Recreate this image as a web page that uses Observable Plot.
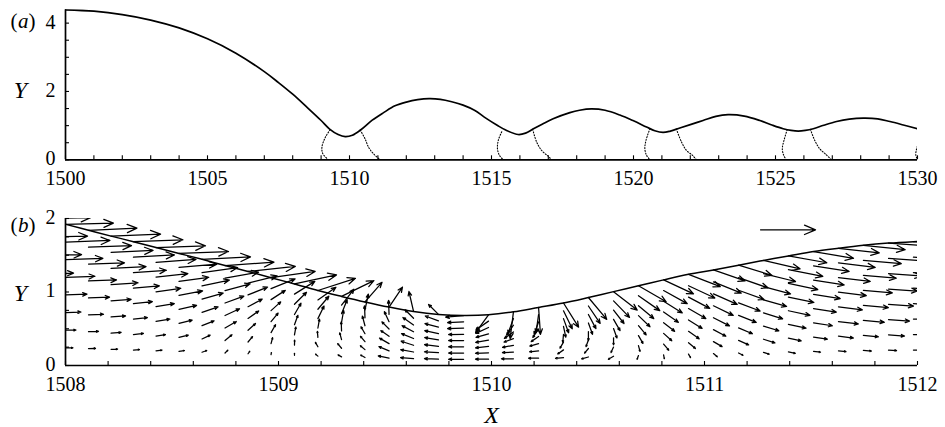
<!DOCTYPE html>
<html>
<head>
<meta charset="utf-8">
<script src="https://cdn.jsdelivr.net/npm/d3@7"></script>
<script src="https://cdn.jsdelivr.net/npm/@observablehq/plot@0.6"></script>
<style>
  html, body { margin: 0; padding: 0; background: #fff; }
  #wrap { position: relative; width: 945px; height: 427px; background: #fff; }
  #wrap svg { position: absolute; left: 0; display: block; }
</style>
</head>
<body>
<div id="wrap"></div>
<script>
// ---------- Panel (a): free surface ----------
const aX = [1500,1501,1502,1503,1504,1505,1506,1507,1507.5,1508,1508.5,1509,1509.3,1509.6,1509.85,1510.1,1510.4,1510.8,1511.2,1511.6,1512,1512.4,1512.8,1513.2,1513.6,1514,1514.4,1514.8,1515.2,1515.5,1515.94,1516.2,1516.46,1516.8,1517.17,1517.76,1518.1,1518.52,1519,1519.52,1520,1520.46,1520.75,1521.04,1521.3,1521.63,1522,1522.45,1522.9,1523.33,1523.9,1524.45,1524.9,1525.27,1525.55,1525.8,1526.05,1526.33,1526.7,1527.15,1527.6,1528.09,1528.6,1529.03,1529.5,1530];
const aY = [4.39,4.35,4.25,4.09,3.86,3.54,3.12,2.58,2.26,1.92,1.54,1.15,0.90,0.74,0.68,0.72,0.88,1.16,1.38,1.58,1.69,1.76,1.79,1.77,1.70,1.60,1.45,1.22,1.01,0.87,0.74,0.78,0.90,1.05,1.20,1.38,1.45,1.49,1.45,1.31,1.14,0.96,0.85,0.80,0.84,0.93,1.03,1.15,1.27,1.32,1.28,1.15,1.01,0.91,0.86,0.84,0.86,0.91,1.01,1.12,1.19,1.22,1.20,1.12,1.02,0.91];

// dotted curves near each trough ([X, Y] pairs)
const dotL1 = [[1509.32,0.88],[1509.15,0.66],[1509.03,0.37],[1509.06,0.18],[1509.26,0]];
const dotR1 = [[1510.38,0.87],[1510.55,0.61],[1510.67,0.37],[1510.84,0.18],[1511.08,0]];
const dotL2 = [[1515.36,0.82],[1515.24,0.57],[1515.21,0.32],[1515.28,0.13],[1515.42,0]];
const dotR2 = [[1516.45,0.89],[1516.59,0.52],[1516.77,0.27],[1517.0,0.1],[1517.12,0]];
const dotL3 = [[1520.58,0.91],[1520.44,0.57],[1520.40,0.32],[1520.46,0.13],[1520.58,0]];
const dotR3 = [[1521.51,0.90],[1521.69,0.52],[1521.87,0.27],[1522.08,0.13],[1522.22,0]];
const dotL4 = [[1525.41,0.88],[1525.30,0.57],[1525.24,0.32],[1525.29,0.13],[1525.38,0]];
const dotR4 = [[1526.23,0.89],[1526.38,0.57],[1526.56,0.32],[1526.77,0.16],[1526.97,0]];
const dotL5 = [[1530.15,0.70],[1529.99,0.38],[1529.94,0.15],[1530.0,0]];

const aXLabels = [1500,1505,1510,1515,1520,1525,1530];
const aYLabels = [0,2,4];

// ---------- Panel (b): velocity field ----------
const colX = [1507.897,1508.002,1508.108,1508.214,1508.319,1508.425,1508.533,1508.641,1508.749,1508.857,1508.965,1509.075,1509.185,1509.296,1509.406,1509.519,1509.634,1509.751,1509.869,1509.986,1510.103,1510.221,1510.338,1510.455,1510.573,1510.690,1510.808,1510.925,1511.042,1511.160,1511.277,1511.394,1511.512,1511.629,1511.746,1511.864,1511.981,1512.099];
const colEta = [2.0,1.92,1.84,1.76,1.685,1.605,1.525,1.445,1.36,1.28,1.195,1.11,1.02,0.94,0.865,0.795,0.735,0.695,0.68,0.69,0.73,0.79,0.85,0.925,1.005,1.085,1.165,1.24,1.30,1.365,1.43,1.49,1.55,1.595,1.635,1.665,1.685,1.70];

// arrow lengths (px) and directions (deg, counter-clockwise from +X), level k = 1..8 (k/8 of depth)
const lenRow1 = [7,7,7,6.5,6,6,5.5,5,4,3, 2,2,3,4,5,11,13,14,15,13, 12,10,8,7,6,4,4,4,5,5, 6,7,7,7.5,8,8,8,8];
const angRow1 = [0,0,1,2,4,6,10,20,45,55, 80,90,140,150,150,168,175,178,180,180, 180,180,185,195,210,250,280,300,320,332, 342,348,352,354,356,357,358,358];
const lenRow2 = [10,10,10,10,10,9.5,9.5,9,9,7, 6,5,5,6,6,11,13,14,15,13, 11,9,7,6,6,6,8,9,10,11, 12,13,14,15,15,16,16,16];
const angRow2 = [1,1,2,4,6,8,14,25,40,50, 75,88,120,130,140,157,170,176,180,182, 183,185,215,230,245,285,310,320,330,336, 342,348,351,353,355,356,357,358];
const lenRow3 = [15,15,15,14.5,14,14,13.5,13,13,10, 9,8,6,7,7,11,13,14,15,13, 11,9,7,7,7,9,11,13,14,15, 16,18,19,20,21,21,22,22];
const angRow3 = [1,2,2,4,6,9,14,22,30,42, 60,80,95,105,130,150,162,173,180,186, 190,195,240,250,270,300,318,325,332,337, 343,348,351,353,355,356,357,358];
const lenRow4 = [22,21,21,20,19,18.5,18,17,16,13, 11,10,9,9,8,10,13,14,15,13, 10,9,8,9,10,12,14,16,18,19, 20,22,23,24,25,25,26,26];
const angRow4 = [1,2,2,4,6,9,13,19,25,35, 50,70,80,92,120,145,158,170,180,190, 200,215,265,270,290,310,322,328,333,338, 343,348,351,353,355,356,357,358];
const lenRow5 = [30,29,28,27,26,25,24,22,20,16, 13,13,14,12,10,10,13,14,15,13, 11,10,11,12,13,16,18,20,22,23, 24,26,27,28,29,29,30,30];
const angRow5 = [1,2,2,4,5,8,11,16,20,28, 42,60,64,80,105,135,152,168,181,196, 215,235,282,290,300,316,325,330,334,339, 344,348,351,353,355,356,357,358];
const lenRow6 = [38,37,36,35,33,32,30,28,26,21, 17,17,17,15,12,11,13,14,16,14, 12,13,15,16,17,20,22,24,26,27, 28,30,31,32,33,33,34,34];
const angRow6 = [1,2,2,3,4,6,8,12,15,22, 33,45,50,68,92,115,145,165,182,205, 235,250,290,298,308,320,328,332,336,340, 345,348,351,353,355,356,357,358];
const lenRow7 = [44,44,43,42,41,40,38,36,34,30, 26,24,22,20,16,14,12,14,16,15, 16,18,20,21,23,26,27,29,30,31, 33,35,36,37,38,38,38,39];
const angRow7 = [1,2,2,2.5,3,4,5,8,10,14, 22,32,35,52,78,92,135,160,183,215, 250,262,296,304,314,325,331,335,338,341, 346,349,351,353,355,356,357,358];
const lenRow8 = [47,47.5,48.5,49.5,49.5,49.5,49.5,48.5,49,47.5, 44.5,43,39.5,36,26,24,20.5,14,18,22, 27,27,28.5,28.5,30,32,33,34,33.5,35, 37.5,39,40.5,41,42,42,43,43];
const angRow8 = [1,1.5,2.5,2.3,2.2,2,2.2,2.8,4,6, 8,12,18,26,49,56,103,135,185,234, 263,274,302,310,322,330,335,339,341,343, 347,350,350.5,353.5,354,356,357,358];

// reference (key) arrow
const keyX = [1511.263];
const keyY = [1.846];
const keyLen = [55];

const bXLabels = [1508,1509,1510,1511,1512];
const bYLabels = [0,1,2];

// ---------- build ----------
const font = "'Liberation Serif', 'Times New Roman', Times, serif";
const W = 945, ML = 65, MR = 28;
const frameW = W - ML - MR;

const lenRows = [lenRow1,lenRow2,lenRow3,lenRow4,lenRow5,lenRow6,lenRow7,lenRow8];
const angRows = [angRow1,angRow2,angRow3,angRow4,angRow5,angRow6,angRow7,angRow8];
const arrows = [];
colX.forEach((x, i) => {
  for (let k = 1; k <= 8; k++) {
    arrows.push({x, y: k / 8 * colEta[i], len: lenRows[k-1][i], rot: 90 - angRows[k-1][i]});
  }
});
const surfB = colX.map((x, i) => ({x, y: colEta[i]}));
const keyData = keyX.map((x, i) => ({x, y: keyY[i], len: keyLen[i], rot: 90}));

const arrowShape = {
  draw(context, l) {
    const h = 0.2 * l, w = 0.085 * l;
    context.moveTo(0, 0);
    context.lineTo(0, -l);
    context.moveTo(-w, h - l);
    context.lineTo(0, -l);
    context.lineTo(w, h - l);
  }
};

function panelLabel(letter, dy) {
  const common = {frameAnchor: "top-left", lineAnchor: "middle", dy, fontSize: 21, fontFamily: font, textAnchor: "start", text: d => d};
  return [
    Plot.text(["("], {...common, dx: -55}),
    Plot.text([letter], {...common, dx: -47.5, fontStyle: "italic"}),
    Plot.text([")"], {...common, dx: -37})
  ];
}

// Panel a
const HA = 200, MTA = 9.3, MBA = HA - 159.3;
const frameHA = HA - MTA - MBA;
const aData = aX.map((x, i) => ({x, y: aY[i]}));
const dotted = [dotL1, dotR1, dotL2, dotR2, dotL3, dotR3, dotL4, dotR4, dotL5];

const plotA = Plot.plot({
  width: W, height: HA,
  marginTop: MTA, marginBottom: MBA, marginLeft: ML, marginRight: MR,
  x: {domain: [aXLabels[0], aXLabels[aXLabels.length - 1]], axis: null},
  y: {domain: [0, aY[0]], axis: null},
  style: {fontFamily: font, background: "white", color: "black", overflow: "visible"},
  marks: [
    Plot.tickX(d3.range(aXLabels[0], aXLabels[aXLabels.length - 1] + 1, 1), {x: d => d, insetTop: frameHA - 4, strokeWidth: 1.1}),
    Plot.tickY(d3.range(0, 4.01, 0.5), {y: d => d, insetRight: frameW - 4, strokeWidth: 1.1}),
    Plot.ruleX([aXLabels[0]], {strokeWidth: 1.7}),
    Plot.ruleY([0], {strokeWidth: 1.7}),
    ...dotted.map(c => Plot.line(c, {x: d => d[0], y: d => d[1], curve: "catmull-rom", strokeWidth: 1.1, strokeDasharray: "1,1.8", clip: true})),
    Plot.line(aData, {x: "x", y: "y", curve: "catmull-rom", strokeWidth: 1.7, clip: true}),
    Plot.text(aXLabels, {x: d => d, text: d => String(d), frameAnchor: "bottom", lineAnchor: "top", dy: 11, fontSize: 20, fontFamily: font}),
    Plot.text(aYLabels, {y: d => d, text: d => String(d), frameAnchor: "left", textAnchor: "end", dx: -10, dy: -1, fontSize: 20, fontFamily: font}),
    Plot.text(["Y"], {text: d => d, frameAnchor: "left", textAnchor: "middle", dx: -45, dy: 6, fontSize: 24, fontStyle: "italic", fontFamily: font}),
    ...panelLabel("a", 11)
  ]
});

// Panel b
const HB = 227, MTB = 18, MBB = 62;
const frameHB = HB - MTB - MBB;
let shapeOpt = arrowShape;
try { Plot.vector([], {shape: arrowShape}); } catch (e) { shapeOpt = "arrow"; }

const plotB = Plot.plot({
  width: W, height: HB,
  marginTop: MTB, marginBottom: MBB, marginLeft: ML, marginRight: MR,
  x: {domain: [bXLabels[0], bXLabels[bXLabels.length - 1]], axis: null},
  y: {domain: [0, bYLabels[bYLabels.length - 1]], axis: null},
  length: {domain: [0, 55], range: [0, 55]},
  style: {fontFamily: font, background: "white", color: "black", overflow: "visible"},
  marks: [
    Plot.tickX(d3.range(1508, 1512.01, 0.2), {x: d => d, insetTop: frameHB - 4, strokeWidth: 1.1}),
    Plot.tickY(d3.range(0, 2.01, 0.25), {y: d => d, insetRight: frameW - 4, strokeWidth: 1.1}),
    Plot.ruleX([bXLabels[0]], {strokeWidth: 1.7}),
    Plot.ruleY([0], {strokeWidth: 1.7}),
    Plot.line(surfB, {x: "x", y: "y", curve: "catmull-rom", strokeWidth: 1.5, clip: true}),
    Plot.vector(arrows, {x: "x", y: "y", length: "len", rotate: "rot", anchor: "start", shape: shapeOpt, stroke: "black", strokeWidth: 1.25, clip: true}),
    Plot.vector(keyData, {x: "x", y: "y", length: "len", rotate: "rot", anchor: "start", shape: shapeOpt, stroke: "black", strokeWidth: 1.25}),
    Plot.text(bXLabels, {x: d => d, text: d => String(d), frameAnchor: "bottom", lineAnchor: "top", dy: 11, fontSize: 20, fontFamily: font}),
    Plot.text(bYLabels, {y: d => d, text: d => String(d), frameAnchor: "left", textAnchor: "end", dx: -10, dy: -1, fontSize: 20, fontFamily: font}),
    Plot.text(["Y"], {text: d => d, frameAnchor: "left", textAnchor: "middle", dx: -45, dy: 1, fontSize: 24, fontStyle: "italic", fontFamily: font}),
    Plot.text(["X"], {text: d => d, frameAnchor: "bottom", textAnchor: "middle", lineAnchor: "top", dy: 40, fontSize: 24, fontStyle: "italic", fontFamily: font}),
    ...panelLabel("b", 7)
  ]
});

const wrap = document.getElementById("wrap");
plotA.style.top = "0px";
plotB.style.top = HA + "px";
wrap.appendChild(plotA);
wrap.appendChild(plotB);
</script>
</body>
</html>
